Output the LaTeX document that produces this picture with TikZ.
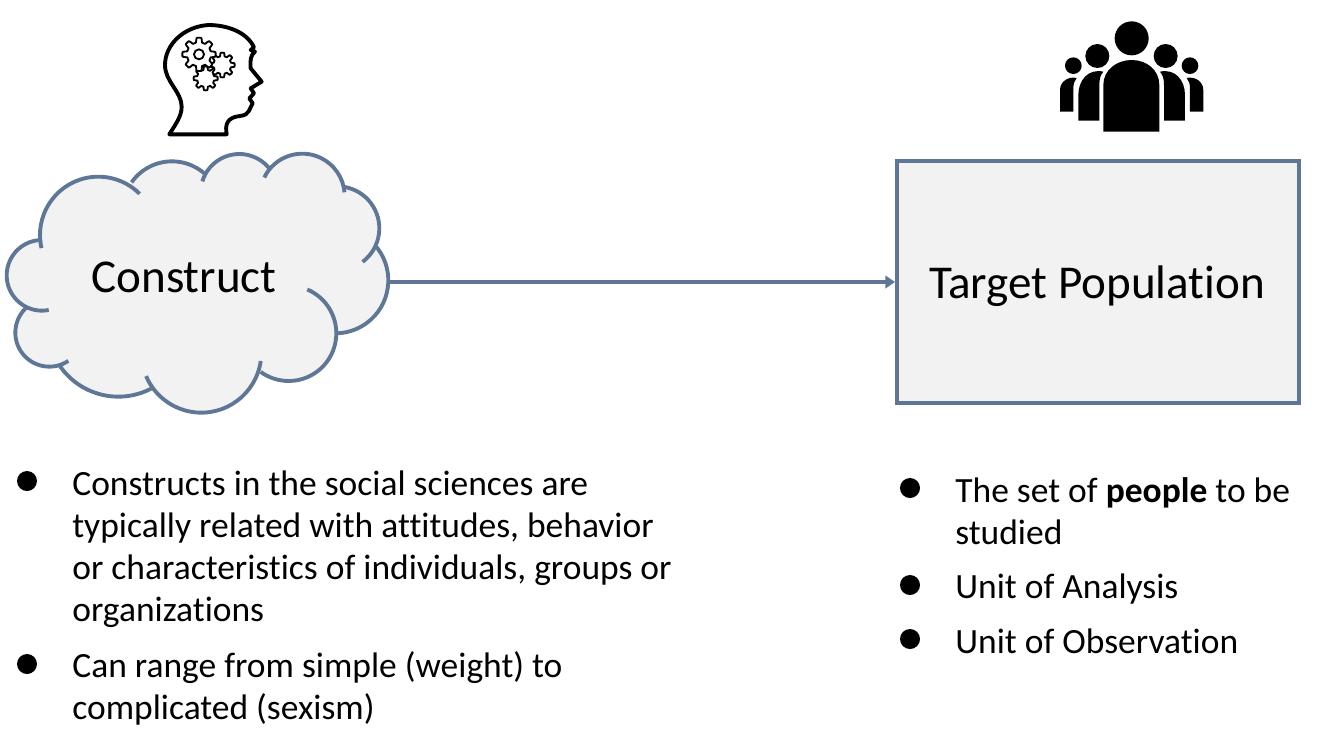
\documentclass[tikz,border=0pt]{standalone}
\usepackage{fontspec}
\setmainfont[Ligatures=NoCommon]{Carlito}
\usetikzlibrary{arrows.meta}
\definecolor{slateline}{HTML}{5F7797}
\definecolor{softfill}{HTML}{F2F2F2}
\tikzset{
    outline/.style={draw=slateline,line width=2.2pt},
    cloudarc/.style={slateline,line width=2.2pt},
    bodytext/.style={font=\fontsize{20.2}{23.8}\selectfont,align=left,inner sep=0pt},
    bigtext/.style={font=\fontsize{26.8}{30}\selectfont,inner sep=0pt},
    listdot/.style={black},
    iconline/.style={black,line width=1.05pt,fill=white,line join=round}
}
\newcommand{\gearicon}[4]{% x, y, radius, teeth
    \draw[iconline] plot[domain=0:360,samples=145]
        ({#1+(#3*0.86+#3*0.14*max(-1,min(1,2.5*cos(#4*\x))))*cos(\x)},
         {#2+(#3*0.86+#3*0.14*max(-1,min(1,2.5*cos(#4*\x))))*sin(\x)}) -- cycle;
}
\begin{document}
\begin{tikzpicture}[x=0.02cm,y=-0.02cm]
        \useasboundingbox (0,0) rectangle (1320,748);
        % cloud, one circle arc per lobe
        \begin{scope}[shift={(0,140)},x=0.00666667cm,y=-0.00666667cm]
        \fill[softfill] (300,200) rectangle (900,600);
        \foreach \cx/\cy/\r/\a/\b in {295/285/175/167/315,516/212/148/215/312,718/158/116/197/320,907/168/127/206/355,1012/265/126/278/413,1006/421/159/318/448,866/580/143/293/486,604/638/180/8/157,355/557/213/62/147,148/578/102/56/229,126/406/106/79/270}
        {
            \fill[softfill] (\cx,\cy) circle (\r);
        }
        \foreach \cx/\cy/\r/\a/\b in {295/285/175/167/315,516/212/148/215/312,718/158/116/197/320,907/168/127/206/355,1012/265/126/278/413,1006/421/159/318/448,866/580/143/293/486,604/638/180/8/157,355/557/213/62/147,148/578/102/56/229,126/406/106/79/270}
        {
            \draw[cloudarc] ({\cx+\r*cos(\a)},{\cy+\r*sin(\a)}) arc (\a:\b:\r);
        }
        \end{scope}
        \node[bigtext] (construct) at (184,277) {Construct};
        \coordinate (cloudedge) at (388,282);
        % box and arrow
        \node[outline,fill=softfill,minimum width=8.04cm,minimum height=4.84cm,inner sep=0pt] (target) at (1098,282) {};
        \node[bigtext] (targetlabel) at (1097,286) {Target Population};
        \draw[slateline,line width=1.8pt,-{Triangle[length=5.5pt,width=7pt]}] (cloudedge) -- (target.west);
        % head
        \begin{scope}[shift={(130,10)},x=0.00666667cm,y=-0.00666667cm]
        \draw[black,line width=2.2pt,line join=round] (118,373) -- (290,373) .. controls (285,345) and (290,322) .. (330,318) .. controls (360,315) and (358,295) .. (368,280) -- (358,265) -- (372,250) -- (362,235) -- (395,215) -- (362,175) .. controls (360,150) and (362,135) .. (375,125) -- (362,120) -- (372,112) .. controls (350,65) and (290,45) .. (235,45) .. controls (160,50) and (105,105) .. (105,165) .. controls (105,215) and (155,245) .. (155,290) .. controls (155,320) and (135,345) .. (118,373) -- cycle;
        \gearicon{227}{205}{36}{8}
        \gearicon{277}{165}{37}{8}
        \gearicon{207}{133}{50}{8}
        \draw[iconline] (207,133) circle (15);
        \end{scope}
        % people
        \begin{scope}[shift={(1040,10)},x=0.00666667cm,y=-0.00666667cm]
        \fill[black] (275,85) circle (51);
        \fill[black] (172,138) circle (36);
        \fill[black] (377,138) circle (36);
        \fill[black] (100,167) circle (25);
        \fill[black] (450,167) circle (25);
        \fill[black] (190,365) -- (358,365) -- (358,225) .. controls (358,180) and (320,150) .. (275,150) .. controls (230,150) and (190,180) .. (190,225) -- cycle;
        \fill[black] (115,332) -- (178,332) -- (178,225) .. controls (178,205) and (182,195) .. (190,185) .. controls (145,175) and (115,210) .. (115,255) -- cycle;
        \fill[black] (435,332) -- (372,332) -- (372,225) .. controls (372,205) and (368,195) .. (360,185) .. controls (405,175) and (435,210) .. (435,255) -- cycle;
        \fill[black] (60,305) -- (100,305) -- (100,235) .. controls (100,222) and (103,212) .. (110,204) .. controls (85,198) and (60,215) .. (60,240) -- cycle;
        \fill[black] (490,305) -- (450,305) -- (450,235) .. controls (450,222) and (447,212) .. (440,204) .. controls (465,198) and (490,215) .. (490,240) -- cycle;
        \end{scope}
        % left list
        \fill[listdot] (27,481) circle (10);
        \node[bodytext,anchor=west] (constructone) at (72,549) {Constructs in the social sciences are\\typically related with attitudes, behavior\\or characteristics of individuals, groups or\\organizations};
        \fill[listdot] (27,664) circle (10);
        \node[bodytext,anchor=west] (constructtwo) at (72,688) {Can range from simple (weight) to\\complicated (sexism)};
        % right list
        \fill[listdot] (910,488) circle (10);
        \node[bodytext,anchor=west] (targetone) at (955,511) {The set of \textbf{people} to be\\studied};
        \fill[listdot] (910,585) circle (10);
        \node[bodytext,anchor=west] (targettwo) at (955,589) {Unit of Analysis};
        \fill[listdot] (910,639) circle (10);
        \node[bodytext,anchor=west] (targetthree) at (955,641) {Unit of Observation};
        \end{tikzpicture}
\end{document}
